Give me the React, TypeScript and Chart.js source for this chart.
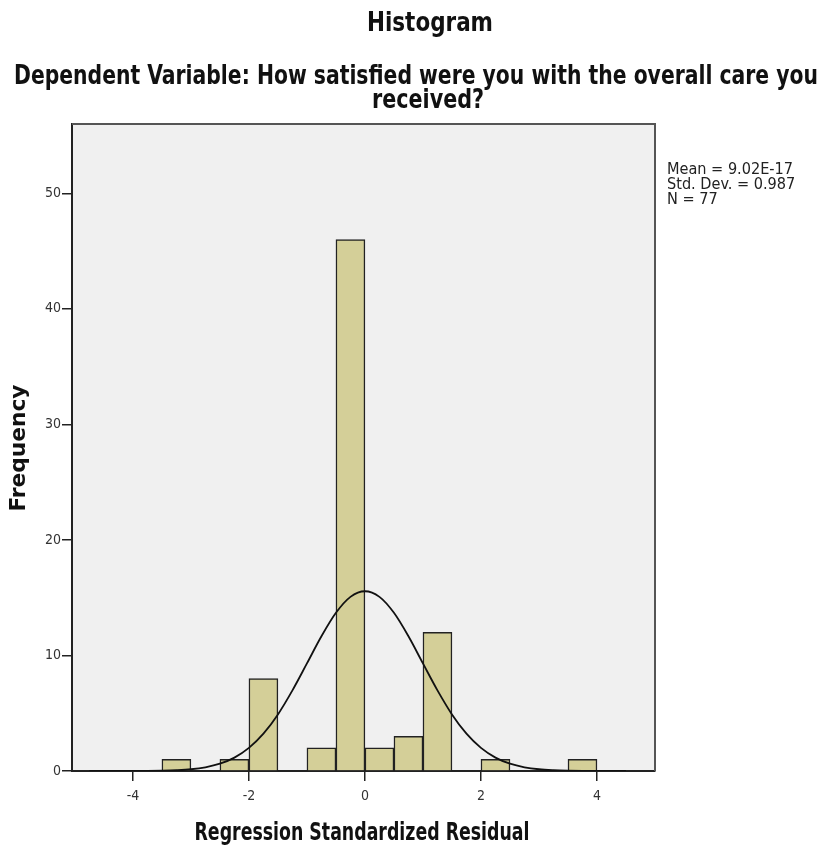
import React, { useEffect, useRef } from "react";
import { Chart, registerables } from "chart.js";

Chart.register(...registerables);

// Histogram bins (centers) and frequencies
const binCenters = [-3.25, -2.25, -1.75, -0.75, -0.25, 0.25, 0.75, 1.25, 2.25, 3.75];
const frequencies = [1, 1, 8, 2, 46, 2, 3, 12, 1, 1];

// Normal curve readings from the picture
const curveX = [-4.75, -4.5, -4.25, -4, -3.75, -3.5, -3.25, -3, -2.75, -2.5, -2.25, -2, -1.75, -1.5, -1.25, -1, -0.75, -0.5, -0.25, 0, 0.25, 0.5, 0.75, 1, 1.25, 1.5, 1.75, 2, 2.25, 2.5, 2.75, 3, 3.25, 3.5, 3.75, 4, 4.25, 4.5];
const curveY = [0, 0, 0, 0, 0.01, 0.03, 0.07, 0.15, 0.32, 0.63, 1.16, 2.0, 3.23, 4.9, 6.98, 9.31, 11.66, 13.69, 15.07, 15.56, 15.07, 13.69, 11.66, 9.31, 6.98, 4.9, 3.23, 2.0, 1.16, 0.63, 0.32, 0.15, 0.07, 0.03, 0.01, 0, 0, 0];

const xTicks = [-4, -2, 0, 2, 4];
const yTicks = [0, 10, 20, 30, 40, 50];

const titleText = "Histogram";
const subtitleLines = ["Dependent Variable: How satisfied were you with the overall care you", "received?"];
const statsLines = ["Mean = 9.02E-17", "Std. Dev. = 0.987", "N = 77"];
const xAxisTitle = "Regression Standardized Residual";
const yAxisTitle = "Frequency";

const FONT = "'DejaVu Sans Condensed', 'DejaVu Sans', sans-serif";

function fitText(ctx: CanvasRenderingContext2D, text: string, cx: number, y: number, width: number, font: string, color: string, rotate = false, baseline: CanvasTextBaseline = "alphabetic") {
  ctx.save();
  ctx.font = font;
  ctx.fillStyle = color;
  ctx.textAlign = "center";
  ctx.textBaseline = baseline;
  const w = ctx.measureText(text).width;
  const s = width / w;
  ctx.translate(cx, y);
  if (rotate) ctx.rotate(-Math.PI / 2);
  ctx.scale(s, 1);
  ctx.fillText(text, 0, 0);
  ctx.restore();
}

const decor = {
  id: "decor",
  beforeDraw(chart: any) {
    const { ctx, chartArea: a } = chart;
    ctx.save();
    ctx.fillStyle = "#ffffff";
    ctx.fillRect(0, 0, chart.width, chart.height);
    ctx.fillStyle = "#f0f0f0";
    ctx.fillRect(a.left, a.top, a.right - a.left, a.bottom - a.top);
    ctx.restore();
  },
  afterDraw(chart: any) {
    const { ctx, chartArea: a } = chart;
    ctx.save();
    ctx.strokeStyle = "#555555";
    ctx.lineWidth = 2;
    ctx.beginPath();
    ctx.moveTo(a.left, a.top);
    ctx.lineTo(a.right, a.top);
    ctx.lineTo(a.right, a.bottom);
    ctx.stroke();
    ctx.restore();

    fitText(ctx, titleText, 430, 31, 126, `bold 26px ${FONT}`, "#111");
    fitText(ctx, subtitleLines[0], 416, 84, 804, `bold 26px ${FONT}`, "#111");
    fitText(ctx, subtitleLines[1], 428, 108, 112, `bold 26px ${FONT}`, "#111");
    fitText(ctx, xAxisTitle, 362, 840, 335, `bold 24px ${FONT}`, "#111");
    fitText(ctx, yAxisTitle, 20, 448, 127, `bold 21px ${FONT}`, "#111", true, "middle");

    // stats box text
    ctx.save();
    ctx.font = `16px ${FONT}`;
    ctx.fillStyle = "#222";
    ctx.textAlign = "left";
    ctx.textBaseline = "middle";
    const s = 126 / ctx.measureText(statsLines[0]).width;
    statsLines.forEach((t, i) => {
      ctx.save();
      ctx.translate(667, 170 + i * 15);
      ctx.scale(s, 1);
      ctx.fillText(t, 0, 0);
      ctx.restore();
    });
    ctx.restore();
  },
};

export default function App() {
  const ref = useRef<HTMLCanvasElement | null>(null);
  useEffect(() => {
    document.body.style.margin = "0";
    const canvas = ref.current!;
    const chart = new Chart(canvas, {
      type: "bar",
      data: {
        datasets: [
          {
            type: "bar",
            data: binCenters.map((x, i) => ({ x, y: frequencies[i] })),
            backgroundColor: "#d4cf98",
            borderColor: "#222222",
            borderWidth: 1.5,
            barPercentage: 1,
            categoryPercentage: 1,
            order: 2,
          } as any,
          {
            type: "line",
            data: curveX.map((x, i) => ({ x, y: curveY[i] })),
            borderColor: "#111111",
            borderWidth: 1.8,
            pointRadius: 0,
            fill: false,
            cubicInterpolationMode: "monotone",
            order: 1,
          } as any,
        ],
      },
      options: {
        animation: false,
        responsive: false,
        maintainAspectRatio: false,
        layout: { padding: { left: 0, top: 124, right: 169, bottom: 0 } },
        plugins: { legend: { display: false }, title: { display: false }, tooltip: { enabled: false } },
        scales: {
          x: {
            type: "linear",
            min: -5.05,
            max: 5,
            offset: false,
            afterBuildTicks: (s: any) => { s.ticks = xTicks.map((v) => ({ value: v })); },
            afterFit: (s: any) => { s.height = 79; },
            grid: { display: true, offset: false, drawOnChartArea: false, drawTicks: true, tickLength: 10, color: "#222", lineWidth: 1.5 },
            border: { display: true, color: "#222", width: 2 },
            ticks: { color: "#333", font: { size: 14, family: FONT }, padding: 7, maxRotation: 0, callback: (v: any) => String(v) },
          },
          y: {
            type: "linear",
            min: 0,
            max: 56,
            afterBuildTicks: (s: any) => { s.ticks = yTicks.map((v) => ({ value: v })); },
            afterFit: (s: any) => { s.width = 72; },
            grid: { display: true, drawOnChartArea: false, drawTicks: true, tickLength: 10, color: "#222", lineWidth: 1.5 },
            border: { display: true, color: "#222", width: 2 },
            ticks: { color: "#333", font: { size: 14, family: FONT }, padding: 1, callback: (v: any) => String(v) },
          },
        },
      },
      plugins: [decor],
    });
    return () => chart.destroy();
  }, []);
  return <canvas ref={ref} width={824} height={850} style={{ display: "block" }} />;
}
